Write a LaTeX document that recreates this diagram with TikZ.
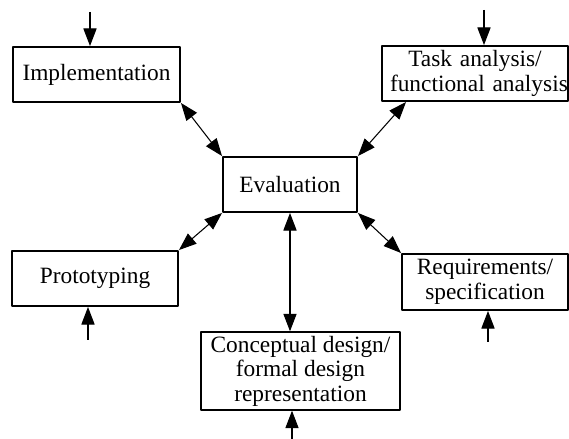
\documentclass[tikz,border=0pt]{standalone}
\usepackage{fontspec}
\setmainfont{Liberation Serif}
\usetikzlibrary{arrows.meta}
\begin{document}
\begin{tikzpicture}[x=0.02cm, y=-0.02cm, line join=round,
		>={Triangle[length=10pt,width=7.5pt]},
		font=\fontsize{13.3}{14}\selectfont,
		box/.style={draw, line width=1.1pt, align=center, inner sep=2pt, minimum height=1.1cm},
		link/.style={<->, line width=0.6pt},
		feed/.style={->, line width=0.6pt}]
	\useasboundingbox (0,0) rectangle (569,439);
	% boxes (centres in pixels of the picture)
	\node[box, minimum width=3.34cm] (impl) at (96.5,74.5) {Implementation};
	\node[box, minimum width=3.72cm, text width=3.4cm] (task) at (475,73.5) {Task analysis/\\\mbox{functional analysis}};
	\node[box, minimum width=2.68cm] (eval) at (290,184.5) {Evaluation};
	\node[box, minimum width=3.32cm] (proto) at (95,278.5) {Prototyping};
	\node[box, minimum width=3.32cm, minimum height=1.12cm] (req) at (485,282) {Requirements/\\specification};
	\node[box, minimum width=3.98cm, minimum height=1.52cm] (concept) at (300.5,371) {Conceptual design/\\formal design\\representation};
	% links to the evaluation
	\draw[link] (impl.south east) -- (eval.north west);
	\draw[link] ([xshift=0.5cm]task.south west) -- (eval.north east);
	\draw[link] (proto.north east) -- (eval.south west);
	\draw[link] (req.north west) -- (eval.south east);
	\draw[link] (eval.south) -- (eval.south |- concept.north);
	% inputs from outside
	\coordinate (inImpl) at (90,12);
	\coordinate (inTask) at (484,10);
	\coordinate (inProto) at (88,340);
	\coordinate (inReq) at (488,342);
	\coordinate (inConcept) at (292,439);
	\draw[feed] (inImpl) -- (inImpl |- impl.north);
	\draw[feed] (inTask) -- (inTask |- task.north);
	\draw[feed] (inProto) -- (inProto |- proto.south);
	\draw[feed] (inReq) -- (inReq |- req.south);
	\draw[feed] (inConcept) -- (inConcept |- concept.south);
\end{tikzpicture}
\end{document}
